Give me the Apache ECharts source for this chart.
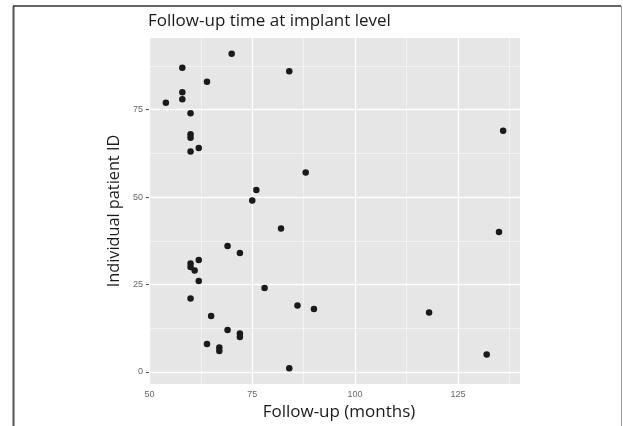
<!DOCTYPE html>
<html>
<head>
<meta charset="utf-8">
<script src="https://cdn.jsdelivr.net/npm/echarts@6/dist/echarts.min.js"></script>
<style>
html,body{margin:0;padding:0;background:#fff;}
#chart{width:623px;height:426px;}
</style>
</head>
<body>
<div id="chart"></div>
<script>
// Follow-up (months) per patient
const followUp = [70,58,84,64,58,58,54,60,60,60,62,60,88,76,75,82,69,136,135,90,118,132,72,60,60,62,61,62,78,60,86,65,69,72,72,64,67,67,84];
// Individual patient ID
const patientId = [91,87,86,83,80,78,77,74,68,67,64,63,57,52,49,41,36,69,40,18,17,5,34,31,30,32,29,26,24,21,19,16,12,11,10,8,7,6,1];

const xTicks = [50,75,100,125];
const xMinor = [62.5,87.5,112.5,137.5];
const yTicks = [0,25,50,75];
const yMinor = [12.5,37.5,62.5,87.5];
const xRange = [49.9,140.1];
const yRange = [-3.5,95.5];

const titleText = 'Follow-up time at implant level';
const xName = 'Follow-up (months)';
const yName = 'Individual patient ID';

const points = followUp.map((v,i)=>[v,patientId[i]]);

const majorStyle = {color:'#ffffff', width:1.4, type:'solid'};
const minorStyle = {color:'#f7f7f7', width:0.7, type:'solid'};
const gridLines = [].concat(
  xMinor.map(v=>({xAxis:v, lineStyle:minorStyle})),
  yMinor.map(v=>({yAxis:v, lineStyle:minorStyle})),
  xTicks.map(v=>({xAxis:v, lineStyle:majorStyle})),
  yTicks.map(v=>({yAxis:v, lineStyle:majorStyle}))
);

const chart = echarts.init(document.getElementById('chart'), null, {renderer:'canvas'});
const font = '"Open Sans", "Noto Sans", sans-serif';
chart.setOption({
  animation:false,
  backgroundColor:'#ffffff',
  title:{
    text:titleText, left:143, top:8,
    textStyle:{fontFamily:font, fontSize:17, fontWeight:'normal', color:'#1a1a1a'}
  },
  grid:{left:149, top:38, width:371, height:349.4, show:true, backgroundColor:'#e6e6e6', borderWidth:0, containLabel:false},
  xAxis:{
    type:'value', min:xRange[0], max:xRange[1],
    name:xName, nameLocation:'middle', nameGap:15,
    nameTextStyle:{fontFamily:font, fontSize:17, color:'#1a1a1a', padding:[0,0,0,9]},
    axisLine:{show:false},
    axisTick:{show:true, length:3, lineStyle:{color:'#444', width:1}, customValues:xTicks},
    axisLabel:{customValues:xTicks, color:'#666', fontSize:9, margin:6, fontFamily:'Liberation Sans, Arial, sans-serif'},
    splitLine:{show:false}
  },
  yAxis:{
    type:'value', min:yRange[0], max:yRange[1],
    name:yName, nameLocation:'middle', nameGap:27,
    nameTextStyle:{fontFamily:font, fontSize:16.3, color:'#1a1a1a'},
    axisLine:{show:false},
    axisTick:{show:true, length:3, lineStyle:{color:'#444', width:1}, customValues:yTicks},
    axisLabel:{customValues:yTicks, color:'#666', fontSize:9, margin:6, fontFamily:'Liberation Sans, Arial, sans-serif'},
    splitLine:{show:false}
  },
  graphic:[
    {type:'line', shape:{x1:13.5,y1:6,x2:13.5,y2:426}, style:{stroke:'#555', lineWidth:2}, z:100},
    {type:'line', shape:{x1:13,y1:6,x2:621,y2:6}, style:{stroke:'#333', lineWidth:1.5}, z:100},
    {type:'line', shape:{x1:621.5,y1:6,x2:621.5,y2:426}, style:{stroke:'#999', lineWidth:1}, z:100}
  ],
  series:[
    {
      type:'scatter', data:[], silent:true, z:1,
      markLine:{silent:true, symbol:['none','none'], label:{show:false}, data:gridLines, animation:false}
    },
    {
      type:'scatter', data:points, symbolSize:6.5, z:5,
      itemStyle:{color:'#1a1a1a', opacity:1}
    }
  ]
});
</script>
</body>
</html>
